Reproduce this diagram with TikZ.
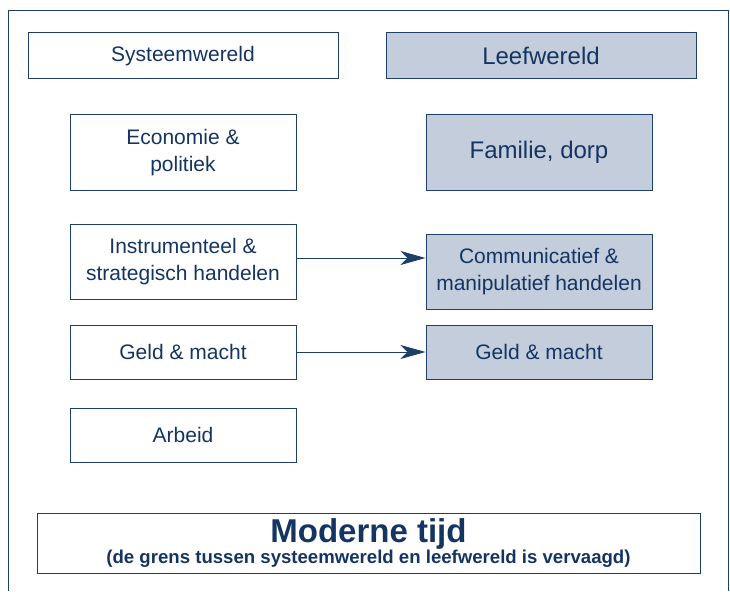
\documentclass[tikz,border=0pt]{standalone}
\usepackage{fontspec}
\setmainfont{Liberation Sans}
\usetikzlibrary{arrows.meta}
\definecolor{navy}{HTML}{1E3F66}
\definecolor{txt}{HTML}{143461}
\definecolor{boxfill}{HTML}{C3CDDC}
\begin{document}
\begin{tikzpicture}[x=1pt,y=-1pt,
  box/.style={draw=navy,line width=1pt,text=txt,align=center,inner sep=0pt,font=\fontsize{21}{27}\selectfont},
  lwbox/.style={box,fill=boxfill},
  conn/.style={draw=navy,line width=1pt,-{Stealth[length=25pt,width=14pt,inset=7pt]}}]
\useasboundingbox (0,0) rectangle (730,591);
\draw[navy,line width=1pt] (8,591) -- (8,11) -- (728,11) -- (728,591);
\node[box,minimum width=310pt,minimum height=46pt] (sys) at (183,56) {Systeemwereld};
\node[lwbox,minimum width=310pt,minimum height=46pt,font=\fontsize{24}{28}\selectfont] (lw) at (541,56) {Leefwereld};
\node[box,minimum width=226pt,minimum height=75pt] (eco) at (183,152.5) {Economie \&\\politiek};
\node[lwbox,minimum width=226pt,minimum height=75pt,font=\fontsize{24}{28}\selectfont] (fam) at (539,152.5) {Familie, dorp};
\node[box,minimum width=226pt,minimum height=75pt] (ins) at (183,261.5) {Instrumenteel \&\\strategisch handelen};
\node[lwbox,minimum width=226pt,minimum height=75pt] (com) at (539,271.5) {Communicatief \&\\manipulatief handelen};
\node[box,minimum width=226pt,minimum height=54pt] (gml) at (183,352) {Geld \& macht};
\node[lwbox,minimum width=226pt,minimum height=54pt] (gmr) at (539,352) {Geld \& macht};
\node[box,minimum width=226pt,minimum height=54pt] (arb) at (183,435) {Arbeid};
\node[box,minimum width=663pt,minimum height=60pt,font=\bfseries] (mod) at (368.5,543) {{\fontsize{33}{36}\selectfont Moderne tijd}\\[0pt]{\fontsize{18.6}{20}\selectfont (de grens tussen systeemwereld en leefwereld is vervaagd)}};
\draw[conn] (ins.east|-0,258) -- (com.west|-0,258);
\draw[conn] (gml.east) -- (gmr.west);
\end{tikzpicture}
\end{document}
